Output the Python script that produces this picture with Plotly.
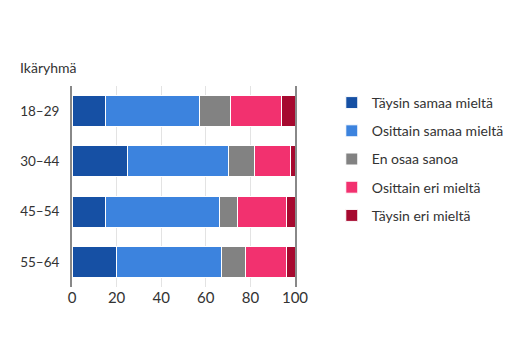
import plotly.graph_objects as go

categories = ["18–29", "30–44", "45–54", "55–64"]
series_names = ["Täysin samaa mieltä", "Osittain samaa mieltä", "En osaa sanoa",
                "Osittain eri mieltä", "Täysin eri mieltä"]
taysin_samaa = [15, 25, 15, 20]
osittain_samaa = [42, 45, 51, 47]
en_osaa = [14, 12, 8, 11]
osittain_eri = [23, 16, 22, 18]
taysin_eri = [6, 2, 4, 4]
values = [taysin_samaa, osittain_samaa, en_osaa, osittain_eri, taysin_eri]
colors = ["#1650a4", "#3c83de", "#828282", "#f2316f", "#a6092f"]

fig = go.Figure()
for i, (name, vals, col) in enumerate(zip(series_names, values, colors)):
    fig.add_trace(go.Bar(
        y=categories, x=vals, name=name, orientation="h",
        marker=dict(color=col, line=dict(color="white", width=1)),
        legendgroup=f"g{i}",
    ))

fig.update_layout(
    barmode="stack",
    bargap=0.38,
    width=525, height=360,
    margin=dict(l=64, r=238, t=78, b=81, autoexpand=False),
    paper_bgcolor="white", plot_bgcolor="white",
    font=dict(family="Lato", size=14, color="#333333"),
    title=dict(text="Ikäryhmä", x=12/525, xref="container", xanchor="left",
               y=1-60/360, yref="container", yanchor="middle",
               font=dict(size=14, color="#333333")),
    legend=dict(x=1.165, xanchor="left", y=0.995, yanchor="top",
                traceorder="grouped", tracegroupgap=7,
                font=dict(size=14, color="#333333")),
    showlegend=True,
)
fig.update_xaxes(range=[0, 100], tickvals=[0, 20, 40, 60, 80, 100],
                 showgrid=True, gridcolor="#e3e3e3", gridwidth=1,
                 zeroline=False, tickfont=dict(size=15, color="#333333"),
                 ticks="", fixedrange=True)
fig.update_yaxes(autorange="reversed", showline=True, mirror=True,
                 linecolor="#888888", linewidth=2, ticks="",
                 ticklabelstandoff=8,
                 tickfont=dict(size=13.5, color="#333333"))

fig.write_html("out.html")
